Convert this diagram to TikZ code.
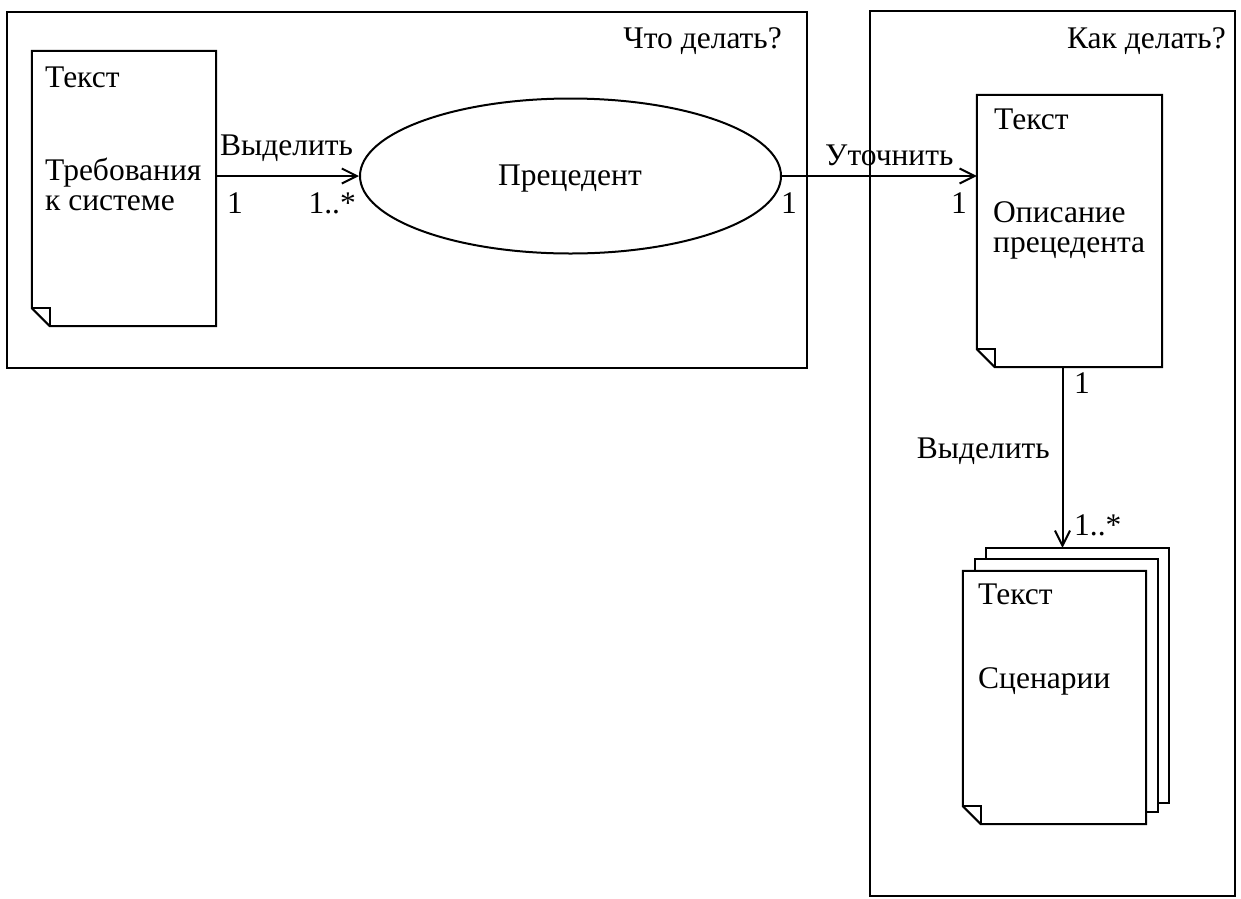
\documentclass[tikz,border=0pt]{standalone}
\usepackage{fontspec}
\setmainfont{Liberation Serif}
\usetikzlibrary{arrows.meta,shapes.geometric}
\tikzset{
  lw/.style={line width=2pt},
  frame/.style={draw, lw, inner sep=0pt},
  docbox/.style={inner sep=0pt},
  txt/.style={inner sep=0pt, font=\fontsize{31.5}{30}\selectfont, align=left},
  conn/.style={lw, -{Straight Barb[length=15pt,width=15pt,line width=2pt]}},
}
\newcommand{\drawdoc}[1]{%
  \draw[lw, fill=white] (#1.north west) -- (#1.north east) -- (#1.south east)
    -- ([xshift=18pt]#1.south west) -- ([yshift=18pt]#1.south west) -- cycle;
  \draw[lw] ([yshift=18pt]#1.south west) -- ([xshift=18pt,yshift=18pt]#1.south west)
    -- ([xshift=18pt]#1.south west);
}
\begin{document}
\begin{tikzpicture}[x=1pt,y=-1pt]
\useasboundingbox (0,0) rectangle (1241,898);
% frames
\node[frame, minimum width=800pt, minimum height=356pt] (fl) at (407,190) {};
\node[frame, minimum width=365pt, minimum height=885pt] (fr) at (1052.5,453.5) {};
\node[txt, anchor=base east] (t1) at (782,48) {Что делать?};
\node[txt, anchor=base east] (t2) at (1226,48) {Как делать?};
% doc 1
\node[docbox, minimum width=184pt, minimum height=275pt] (d1) at (124,188.5) {};
\drawdoc{d1}
\node[txt, anchor=base west] (d1a) at (45,87) {Текст};
\node[txt, anchor=base west] (d1b) at (45,210) {Требования\\к системе};
% use case
\node[draw, lw, ellipse, minimum width=421pt, minimum height=155pt, inner sep=0pt] (uc) at (570.5,176) {};
\node[txt, anchor=base] (ucl) at (570,185) {Прецедент};
% doc 2
\node[docbox, minimum width=185pt, minimum height=272pt] (d2) at (1069.5,231) {};
\drawdoc{d2}
\node[txt, anchor=base west] (d2a) at (994,129) {Текст};
\node[txt, anchor=base west] (d2b) at (993,252) {Описание\\прецедента};
% stack of scenarios
\node[docbox, minimum width=183pt, minimum height=255pt] (s3) at (1077.5,675.5) {};
\node[docbox, minimum width=183pt, minimum height=253pt] (s2) at (1066.5,685.5) {};
\node[docbox, minimum width=183pt, minimum height=253pt] (s1) at (1054.5,697.5) {};
\draw[lw, fill=white] (s3.north west) rectangle (s3.south east);
\draw[lw, fill=white] (s2.north west) rectangle (s2.south east);
\drawdoc{s1}
\node[txt, anchor=base west] (s1a) at (978,604) {Текст};
\node[txt, anchor=base west] (s1b) at (978,688) {Сценарии};
% connectors
\draw[conn] (d1.east |- uc.west) -- (uc.west);
\node[txt, anchor=base west] (l1) at (220,155) {Выделить};
\node[txt, anchor=base west] (m1) at (227,213) {1};
\node[txt, anchor=base east] (m2) at (356,213) {1..*};
\draw[conn] (uc.east) -- (d2.west |- uc.east);
\node[txt, anchor=base west] (l2) at (825,165) {Уточнить};
\node[txt, anchor=base west] (m3) at (781,213) {1};
\node[txt, anchor=base west] (m4) at (951,213) {1};
\coordinate (a3) at ([xshift=-7pt]d2.south);
\draw[conn] (a3) -- (a3 |- s3.north);
\node[txt, anchor=base west] (m5) at (1074,393) {1};
\node[txt, anchor=base east] (l3) at (1050,458) {Выделить};
\node[txt, anchor=base west] (m6) at (1074,535) {1..*};
\end{tikzpicture}
\end{document}
